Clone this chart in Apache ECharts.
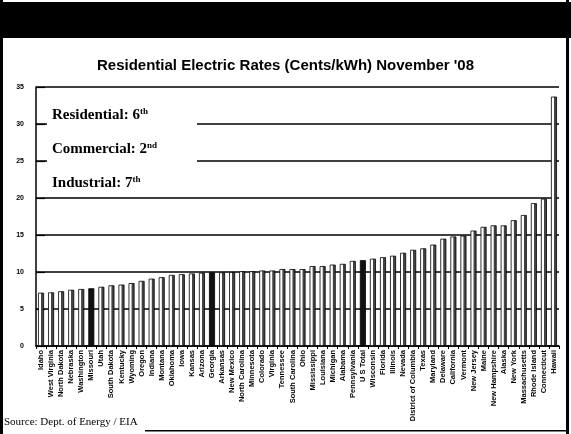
<!DOCTYPE html>
<html><head><meta charset="utf-8">
<script src="https://cdn.jsdelivr.net/npm/echarts@6/dist/echarts.min.js"></script>
<style>html,body{margin:0;padding:0;background:#fff}#c{width:571px;height:434px}</style>
</head><body><div id="c"></div>
<script>
const states = ["Idaho","West Virginia","North Dakota","Nebraska","Washington","Missouri","Utah","South Dakota","Kentucky","Wyoming","Oregon","Indiana","Montana","Oklahoma","Iowa","Kansas","Arizona","Georgia","Arkansas","New Mexico","North Carolina","Minnesota","Colorado","Virginia","Tennessee","South Carolina","Ohio","Mississippi","Louisiana","Michigan","Alabama","Pennsylvania","U S Total","Wisconsin","Florida","Illinois","Nevada","District of Columbia","Texas","Maryland","Delaware","California","Vermont","New Jersey","Maine","New Hampshire","Alaska","New York","Massachusetts","Rhode Island","Connecticut","Hawaii"];
const rates = [7.2,7.25,7.4,7.6,7.7,7.8,8.0,8.2,8.3,8.5,8.8,9.1,9.3,9.6,9.7,9.8,9.9,9.95,9.95,10.0,10.1,10.1,10.2,10.2,10.4,10.4,10.4,10.8,10.8,11.0,11.1,11.5,11.6,11.8,12.0,12.2,12.6,13.0,13.2,13.7,14.5,14.8,14.9,15.6,16.1,16.3,16.3,17.0,17.7,19.3,19.9,33.7];
const highlighted = ["Missouri","Georgia","U S Total"];
const yTicks = [0,5,10,15,20,25,30,35];
const titleText = "Residential Electric Rates (Cents/kWh) November '08";
const notes = [["Residential: 6","th"],["Commercial: 2","nd"],["Industrial: 7","th"]];
const sourceText = "Source: Dept. of Energy / EIA";

const chart = echarts.init(document.getElementById('c'));
const plain = {type:'linear',x:0,y:0,x2:1,y2:0,colorStops:[{offset:0,color:'#fff'},{offset:0.45,color:'#fff'},{offset:0.55,color:'#444'},{offset:1,color:'#444'}]};
const data = states.map((s,i)=>({value:rates[i],itemStyle:{color: highlighted.includes(s)?'#111':plain}}));
const noteGraphics = notes.map((n,i)=>({type:'text',left:52,top:107+i*34,z:120,style:{rich:{a:{fontFamily:'Liberation Serif',fontWeight:'bold',fontSize:15,fill:'#000'},s:{fontFamily:'Liberation Serif',fontWeight:'bold',fontSize:9,fill:'#000',verticalAlign:'top',padding:[0,0,8,0]}},text:'{a|'+n[0]+'}{s|'+n[1]+'}'}}));
chart.setOption({
  animation:false,
  backgroundColor:'#fff',
  title:{text:titleText,left:'center',top:53,textStyle:{fontFamily:'Liberation Sans',fontWeight:'bold',fontSize:15,color:'#000'}},
  grid:{left:36,right:12,top:87,bottom:88},
  xAxis:{type:'category',data:states,boundaryGap:true,
    axisLine:{lineStyle:{color:'#000',width:1.5}},
    axisTick:{show:true,length:3,lineStyle:{color:'#000'}},
    axisLabel:{rotate:90,interval:0,fontSize:7.5,fontWeight:'bold',fontFamily:'Liberation Sans',color:'#000',margin:4}},
  yAxis:{type:'value',min:0,max:35,interval:5,
    axisLine:{show:true,lineStyle:{color:'#000',width:1.5}},
    axisTick:{show:true,inside:true,length:9,lineStyle:{color:'#000',width:1.2}},
    axisLabel:{fontSize:7,fontWeight:'bold',fontFamily:'Liberation Sans',color:'#000',margin:12,formatter:v=>yTicks.includes(v)?String(v):''},
    splitLine:{show:true,lineStyle:{color:'#000',width:1.5}}},
  series:[{type:'bar',data:data,barWidth:6,itemStyle:{borderColor:'#000',borderWidth:0.8}}],
  graphic:[
    {type:'rect',left:0,top:2,z:100,shape:{width:571,height:36},style:{fill:'#000'}},
    {type:'rect',left:0,top:0,z:100,shape:{width:3,height:434},style:{fill:'#000'}},
    {type:'rect',left:566,top:0,z:100,shape:{width:3,height:434},style:{fill:'#000'}},
    {type:'rect',left:145,top:430,z:100,shape:{width:424,height:1.5},style:{fill:'#000'}},
    {type:'rect',left:47,top:100,z:110,shape:{width:150,height:94},style:{fill:'#fff'}},
    ...noteGraphics,
    {type:'text',left:4,top:417,z:120,style:{text:sourceText,fontFamily:'Liberation Serif',fontSize:11,fill:'#000'}}
  ]
});
</script></body></html>
